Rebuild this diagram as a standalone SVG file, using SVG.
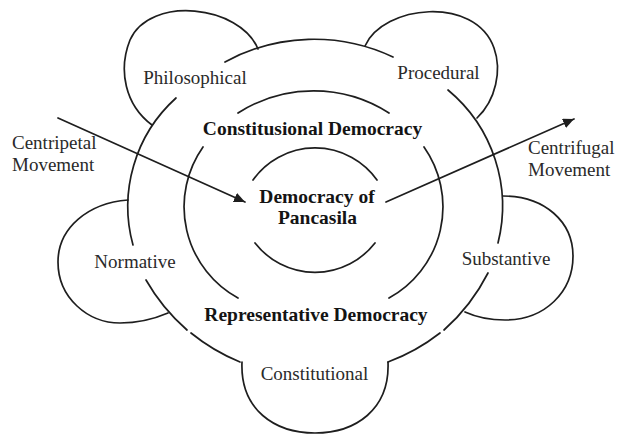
<svg xmlns="http://www.w3.org/2000/svg" width="618" height="434" viewBox="0 0 618 434">
  <style>
    .ln { fill: none; stroke: #1e1e1e; stroke-width: 1.7; stroke-linecap: round; }
    .lbl { font-family: "Liberation Serif", "Times New Roman", serif; font-size: 19px; fill: #2a2a2a; }
    .bold { font-family: "Liberation Serif", "Times New Roman", serif; font-size: 19.5px; font-weight: bold; fill: #141414; text-anchor: middle; }
    .mid { text-anchor: middle; }
  </style>
  <defs>
    <marker id="head" markerUnits="userSpaceOnUse" markerWidth="12" markerHeight="10" refX="11" refY="5" orient="auto">
      <path d="M0,0 L11,5 L0,10 Z" fill="#1e1e1e"/>
    </marker>
  </defs>
  <rect width="618" height="434" fill="#ffffff"/>

  <!-- outer ring, broken where the dimension bubbles sit -->
  <g id="outer-ring">
    <path class="ln" d="M225,62 A185,185 0 0 1 393,57"/>
    <path class="ln" d="M176,98 A146,146 0 0 0 133,245"/>
    <path class="ln" d="M448,90 A151,151 0 0 1 498,243"/>
    <path class="ln" d="M146,280 A194,194 0 0 0 187,330"/>
    <path class="ln" d="M191,333 A194,194 0 0 0 240,362"/>
    <path class="ln" d="M488,273 A194,194 0 0 1 444,330"/>
    <path class="ln" d="M440,333 A194,194 0 0 1 388,362"/>
  </g>

  <g id="philosophical">
    <path class="ln" d="M258,49 C240,5 150,-5 130,40 C118,70 125,105 152,125"/>
    <text class="lbl mid" x="195" y="84">Philosophical</text>
  </g>

  <g id="procedural">
    <path class="ln" d="M365,46 C383,5 475,-5 494,48 C502,70 496,100 477,118"/>
    <text class="lbl mid" x="438.5" y="79">Procedural</text>
  </g>

  <g id="normative">
    <path class="ln" d="M128,200 C88,203 58,228 58,262 C58,298 88,323 120,323 C138,323 154,319 168,313"/>
    <text class="lbl mid" x="135" y="268">Normative</text>
  </g>

  <g id="substantive">
    <path class="ln" d="M503,196 C545,196 573,222 573,256 C573,292 545,320 505,320 C490,320 476,317 465,312"/>
    <text class="lbl mid" x="506" y="265">Substantive</text>
  </g>

  <g id="constitutional">
    <path class="ln" d="M242,362 C240,410 275,433 315,433 C355,433 390,410 388,362"/>
    <text class="lbl mid" x="314.5" y="380">Constitutional</text>
  </g>

  <!-- middle ring: constitutional / representative democracy -->
  <g id="constitusional-democracy">
    <path class="ln" d="M238,113 A140,140 0 0 1 389,113"/>
    <text class="bold" x="312.5" y="135">Constitusional Democracy</text>
  </g>

  <g id="representative-democracy">
    <path class="ln" d="M203,147 A104,104 0 0 0 238,298"/>
    <path class="ln" d="M424,147 A104,104 0 0 1 389,298"/>
    <text class="bold" x="316" y="321">Representative Democracy</text>
  </g>

  <!-- inner ring -->
  <g id="democracy-of-pancasila">
    <path class="ln" d="M253,180 A76,76 0 0 1 377,180"/>
    <path class="ln" d="M255,243 A76,76 0 0 0 375,243"/>
    <text class="bold" x="317" y="203">Democracy of</text>
    <text class="bold" x="317.5" y="224">Pancasila</text>
  </g>

  <g id="centripetal-movement">
    <text class="lbl" x="12" y="149">Centripetal</text>
    <text class="lbl" x="12" y="171">Movement</text>
  </g>

  <g id="centrifugal-movement">
    <text class="lbl" x="528" y="154">Centrifugal</text>
    <text class="lbl" x="528" y="176">Movement</text>
  </g>

  <g id="connectors">
    <path class="ln" d="M58,118 L245,202" marker-end="url(#head)"/>
    <path class="ln" d="M386,202 L574,119" marker-end="url(#head)"/>
  </g>
</svg>
